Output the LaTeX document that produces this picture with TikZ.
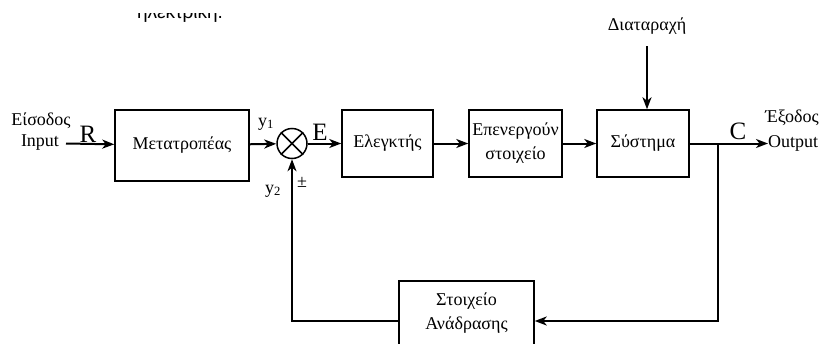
\documentclass[tikz,border=0pt]{standalone}
\usepackage{fontspec}
\setmainfont{Liberation Serif}
\newfontfamily\notesans{Liberation Sans}
\usetikzlibrary{arrows.meta}
\begin{document}
\begin{tikzpicture}[x=1pt,y=-1pt,>={Stealth[length=12pt,width=9pt,inset=3.5pt]},
  block/.style={draw,line width=1.5pt,inner sep=0pt,align=center,font=\fontsize{18}{24}\selectfont},
  sig/.style={line width=2pt},
  fbline/.style={line width=1.4pt},
  txt/.style={inner sep=0pt,font=\fontsize{18}{20}\selectfont},
  big/.style={inner sep=0pt,font=\fontsize{25}{28}\selectfont}]
	  \useasboundingbox (0,0) rectangle (821,343);
	  % cut-off note at the top
	  \begin{scope}
	    \clip (0,13) rectangle (821,23);
	    \node[inner sep=0pt,anchor=base,font=\notesans\fontsize{19}{22}\selectfont] (topnote) at (180,18) {ηλεκτρική.};
	  \end{scope}
	  % blocks
	  \node[block,minimum width=134pt,minimum height=71pt] (conv) at (182,145.5) {Μετατροπέας};
	  \node[block,minimum width=91pt,minimum height=67pt] (ctrl) at (387.5,143.5) {Ελεγκτής};
	  \node[block,minimum width=93pt,minimum height=67pt] (act) at (515.5,143.5) {Επενεργούν\\στοιχείο};
	  \node[block,minimum width=92pt,minimum height=67pt] (sys) at (643,143.5) {Σύστημα};
	  \node[block,minimum width=135pt,minimum height=64pt] (fb) at (466.5,313) {Στοιχείο\\Ανάδρασης};
	  \node[draw,circle,line width=1.5pt,minimum size=30pt,inner sep=0pt] (sum) at (292,143.5) {};
	  \draw[line width=1.5pt] (sum.north west) -- (sum.south east) (sum.north east) -- (sum.south west);
	  % labels
	  \node[txt] (inname) at (41,121) {Είσοδος};
	  \node[txt] (inname2) at (40,143) {Input};
	  \node[big] (rlab) at (88,134) {R};
	  \node[txt] (y1) at (266,124) {y\textsubscript{1}};
	  \node[txt] (y2) at (273,191) {y\textsubscript{2}};
	  \node[txt] (pm) at (302,182) {±};
	  \node[big] (elab) at (320,132) {E};
	  \node[big] (clab) at (738,131) {C};
	  \node[txt] (outname) at (792,118) {Έξοδος};
	  \node[txt,anchor=west] (outname2) at (768,143) {Output};
	  \node[txt] (dist) at (647,26) {Διαταραχή};
	  % free ends
	  \coordinate (in) at (66,143.5);
	  \coordinate (out) at (768,143.5);
	  \coordinate (distin) at (647,46);
	  \coordinate (branch) at (718,143.5);
	  \coordinate (ret) at (718,321);
	  % connectors
	  \draw[sig,->] (in) -- (conv);
	  \draw[sig,->] (conv) -- (sum);
	  \draw[sig,->] (sum) -- (ctrl);
	  \draw[sig,->] (ctrl) -- (act);
	  \draw[sig,->] (act) -- (sys);
	  \draw[sig,->] (sys) -- (out);
	  \draw[sig,->] (distin) -- (distin |- sys.north);
	  \draw[sig,->] (branch) -- (ret) -- (ret -| fb.east);
	  \draw[fbline,->] (ret -| fb.west) -| (sum.south);
	\end{tikzpicture}
\end{document}
